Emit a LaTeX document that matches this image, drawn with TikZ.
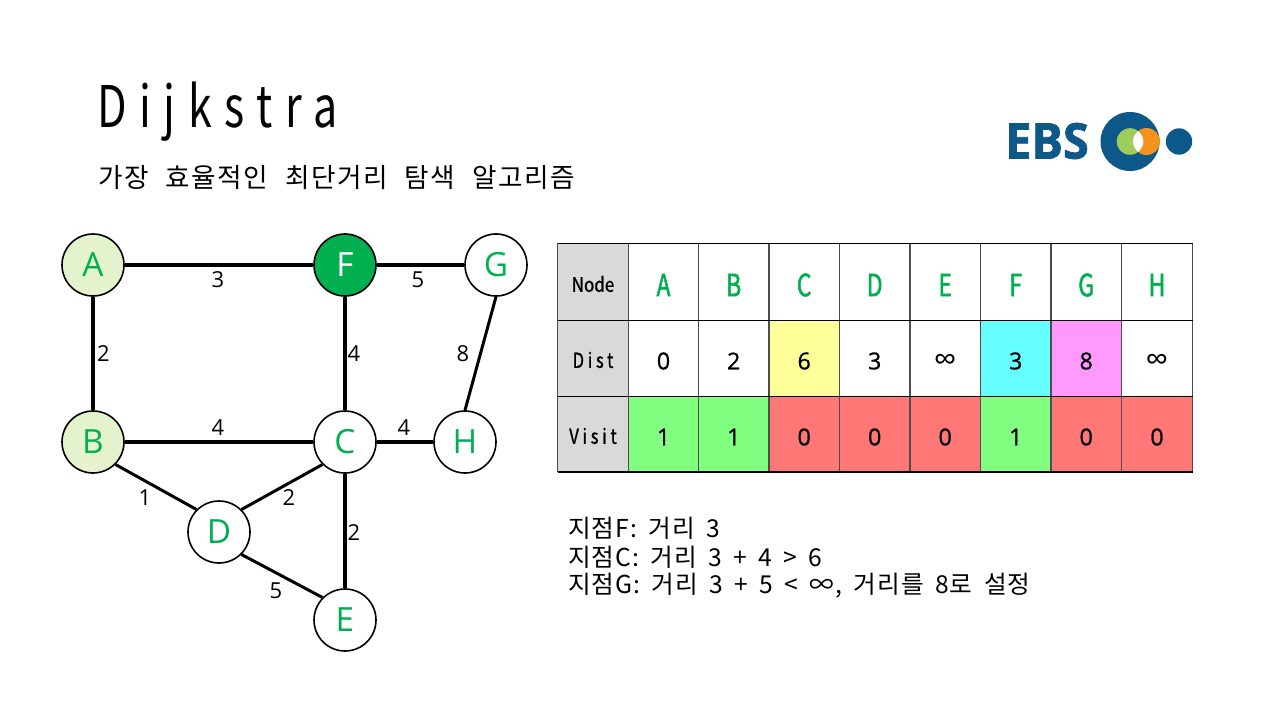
\documentclass[tikz,border=0pt]{standalone}
\usepackage{fontspec}
\setmainfont{Noto Sans}
\newfontfamily\kr[LetterSpace=4,WordSpace=1.75]{Noto Sans CJK KR}
\newfontfamily\krtitle[LetterSpace=22,FakeStretch=0.75]{Noto Sans CJK KR}
\newfontfamily\krsub[LetterSpace=6,WordSpace=2.2]{Noto Sans CJK KR}
\newfontfamily\hdf[FakeBold=1,FakeStretch=0.85]{Noto Sans CJK KR}
\newfontfamily\hdsp[FakeBold=1,FakeStretch=0.8,LetterSpace=18]{Noto Sans CJK KR}
\newfontfamily\nmf[FakeBold=1.5,FakeStretch=0.75]{Noto Sans CJK KR}
\newfontfamily\valf[FakeBold=0.8]{Open Sans}
\newfontfamily\labf{Open Sans}
\newfontfamily\ebsf[BoldFeatures={FakeBold=1.5,FakeStretch=0.95}]{Open Sans}
\definecolor{gnode}{RGB}{0,176,80}
\definecolor{pale}{RGB}{229,242,206}
\definecolor{ebsblue}{RGB}{12,88,137}
\definecolor{ebsgreen}{RGB}{159,205,92}
\definecolor{ebsorange}{RGB}{245,146,30}
\definecolor{hdr}{RGB}{217,217,217}
\definecolor{cgreen}{RGB}{128,255,128}
\definecolor{cred}{RGB}{255,119,119}
\definecolor{cyellow}{RGB}{255,255,153}
\definecolor{ccyan}{RGB}{102,255,255}
\definecolor{cpink}{RGB}{255,153,255}
\tikzset{
 x=0.75pt,y=-0.75pt,
 vert/.style={circle,draw=black,line width=1.2pt,minimum size=46.5pt,inner sep=0pt,fill=white,text=gnode,font=\labf\fontsize{25}{25}\selectfont},
 done/.style={vert,fill=pale},
 cur/.style={vert,fill=gnode,text=white},
 edge/.style={line width=2.25pt},
 axisedge/.style={line width=2.5pt},
 wt/.style={font=\labf\fontsize{16.5}{16.5}\selectfont,inner sep=0pt},
 hd/.style={font=\hdf\fontsize{15}{15}\selectfont,inner sep=0pt},
 hds/.style={font=\hdsp\fontsize{15.5}{15.5}\selectfont,inner sep=0pt},
 nm/.style={font=\nmf\fontsize{23}{23}\selectfont,text=gnode,inner sep=0pt},
 val/.style={font=\valf\fontsize{17.5}{17.5}\selectfont,inner sep=0pt},
 inf/.style={font=\labf\fontsize{24}{24}\selectfont,inner sep=0pt},
 noteline/.style={font=\kr\fontsize{18.5}{18.5}\selectfont,anchor=west,inner sep=0pt},
}
\begin{document}
\begin{tikzpicture}
\useasboundingbox (0,0) rectangle (1280,720);
\fill[white] (0,0) rectangle (1280,720);
\node[anchor=west,inner sep=0pt,font=\krtitle\fontsize{43}{43}\selectfont] (title) at (97,112) {Dijkstra};
\node[anchor=west,inner sep=0pt,font=\krsub\fontsize{20}{20}\selectfont] (sub) at (98,178) {가장 효율적인 최단거리 탐색 알고리즘};
% logo
\node[inner sep=0pt,text=ebsblue,font=\ebsf\bfseries\fontsize{37}{37}\selectfont] (ebs) at (1047,141) {EBS};
\fill[ebsblue] (1130,141.5) circle[radius=29.5];
\fill[ebsblue] (1179,141.5) circle[radius=13.2];
\fill[ebsgreen] (1130,141.5) circle[radius=13.3];
\fill[ebsorange] (1146.5,141.5) circle[radius=13.5];
\begin{scope}
\clip (1130,141.5) circle[radius=13.3];
\fill[white] (1146.5,141.5) circle[radius=13.5];
\end{scope}
% graph
\node[done] (A) at (93,265) {A};
\node[cur] (F) at (345,265) {F};
\node[vert] (G) at (496,265) {G};
\node[done] (B) at (93,442) {B};
\node[vert] (C) at (345,442) {C};
\node[vert] (H) at (465,442) {H};
\node[vert] (D) at (219,532) {D};
\node[vert] (E) at (345,620) {E};
\draw[axisedge] (A)--(F);
\draw[axisedge] (F)--(G);
\draw[axisedge] (A)--(B);
\draw[axisedge] (F)--(C);
\draw[edge] (G.south)--(H.north);
\draw[axisedge] (B)--(C);
\draw[axisedge] (C)--(H);
\draw[edge] (B.-45)--(D.135);
\draw[edge] (D.45)--(C.225);
\draw[axisedge] (C)--(E);
\draw[edge] (D.-45)--(E.135);
\node[wt] (w1) at (218,280) {3};
\node[wt] (w2) at (418,280) {5};
\node[wt] (w3) at (103.5,354) {2};
\node[wt] (w4) at (354,354) {4};
\node[wt] (w5) at (463,354) {8};
\node[wt] (w6) at (218,428) {4};
\node[wt] (w7) at (404,428) {4};
\node[wt] (w8) at (145,498) {1};
\node[wt] (w9) at (289,498) {2};
\node[wt] (w10) at (354,533) {2};
\node[wt] (w11) at (276,591) {5};
% table fills
\fill[hdr] (557.5,243.5) rectangle (628.5,472);
\foreach \a/\b/\c in {628.5/698.5/cgreen,698.5/769/cgreen,769/839.5/cred,839.5/910/cred,910/980.5/cred,980.5/1051/cgreen,1051/1121.5/cred,1121.5/1192.5/cred}
  \fill[\c] (\a,396.5) rectangle (\b,472);
\fill[cyellow] (769,320.5) rectangle (839.5,396.5);
\fill[ccyan] (980.5,320.5) rectangle (1051,396.5);
\fill[cpink] (1051,320.5) rectangle (1121.5,396.5);
% table grid
\foreach \x in {557.5,628.5,698.5,769,839.5,910,980.5,1051,1121.5,1192.5}
  \draw[black!70,line width=0.8pt] (\x,243.5)--(\x,472);
\foreach \y in {243.5,320.5,396.5,472}
  \draw[black,line width=0.8pt] (557.5,\y)--(1192.5,\y);
% headers
\node[hd] (hn) at (593,284) {Node};
\node[hds] (hd2) at (593,360) {Dist};
\node[hds] (hv) at (593,436) {Visit};
\foreach \n/\x in {A/663.5,B/733.7,C/804.2,D/874.7,E/945.2,F/1015.7,G/1086.2,H/1157}
  \node[nm] (n\n) at (\x,285) {\n};
\foreach \n/\x/\t in {A/663.5/0,B/733.7/2,C/804.2/6,D/874.7/3,F/1015.7/3,G/1086.2/8}
  \node[val] (d\n) at (\x,361) {\t};
\foreach \n/\x in {E/945.2,H/1157}
  \node[inf] (d\n) at (\x,362) {∞};
\foreach \n/\x/\t in {A/663.5/1,B/733.7/1,C/804.2/0,D/874.7/0,E/945.2/0,F/1015.7/1,G/1086.2/0,H/1157/0}
  \node[val] (v\n) at (\x,437) {\t};
% notes
\node[noteline] (l1) at (568,528) {지점F: 거리 3};
\node[noteline] (l2) at (568,557) {지점C: 거리 3 + 4 > 6};
\node[noteline] (l3) at (568,586) {지점G: 거리 3 + 5 < ∞, 거리를 8로 설정};
\end{tikzpicture}
\end{document}
